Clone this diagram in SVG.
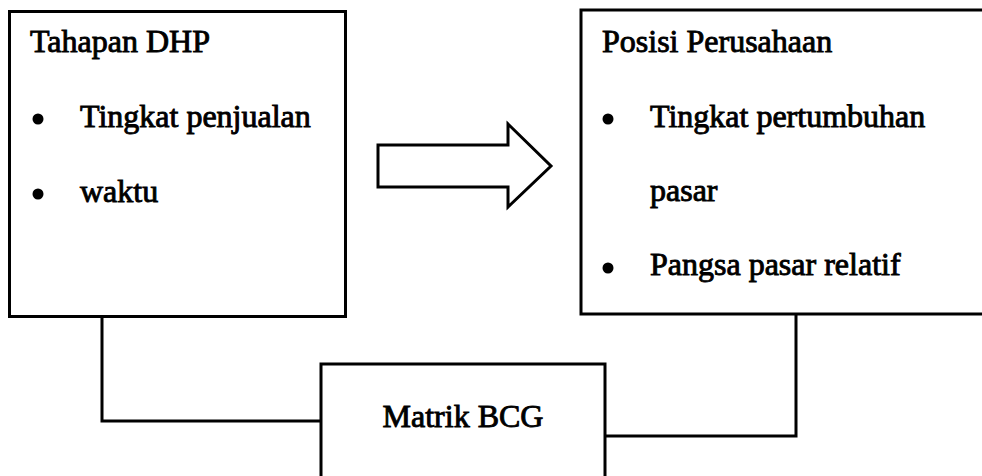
<svg xmlns="http://www.w3.org/2000/svg" width="982" height="476" viewBox="0 0 982 476">
  <style>
    .box { fill: #ffffff; stroke: #000000; stroke-width: 3; }
    .conn { fill: none; stroke: #000000; stroke-width: 3; stroke-linejoin: miter; }
    .txt { font-family: "Liberation Serif", "Times New Roman", serif; font-size: 32px; fill: #000000; stroke: #000000; stroke-width: 0.9; }
    .bullet { fill: #000000; }
  </style>
  <rect width="982" height="476" fill="#ffffff"/>
  <g id="connectors">
    <polyline class="conn" points="102,317 102,421 321,421"/>
    <polyline class="conn" points="605,436 796,436 796,314"/>
  </g>
  <g id="node-tahapan">
    <rect class="box" x="9.5" y="11.5" width="336" height="305"/>
    <text class="txt" x="30" y="52">Tahapan DHP</text>
    <circle class="bullet" cx="38" cy="119" r="5.5"/>
    <text class="txt" x="80" y="127">Tingkat penjualan</text>
    <circle class="bullet" cx="38" cy="194" r="5.5"/>
    <text class="txt" x="80" y="202">waktu</text>
  </g>
  <g id="node-arrow">
    <polygon class="box" points="378,145 508,145 508,124 551,166 508,207 508,187 378,187"/>
  </g>
  <g id="node-posisi">
    <rect class="box" x="581" y="10" width="420" height="304"/>
    <text class="txt" x="602" y="52">Posisi Perusahaan</text>
    <circle class="bullet" cx="608" cy="119" r="5.5"/>
    <text class="txt" x="650" y="127">Tingkat pertumbuhan</text>
    <text class="txt" x="650" y="201">pasar</text>
    <circle class="bullet" cx="608" cy="268" r="5.5"/>
    <text class="txt" x="650" y="275">Pangsa pasar relatif</text>
  </g>
  <g id="node-matrik">
    <rect class="box" x="321" y="364" width="284" height="130"/>
    <text class="txt" x="463" y="427" text-anchor="middle">Matrik BCG</text>
  </g>
</svg>
